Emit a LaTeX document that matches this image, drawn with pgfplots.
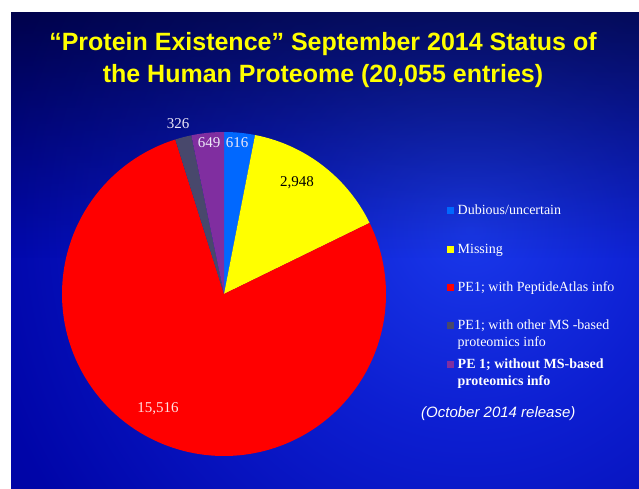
\documentclass[border=0pt]{standalone}
\usepackage{pgfplots}
\pgfplotsset{compat=1.18}
\usepackage{pgfplotstable}
\usepackage{fontspec}
\setmainfont{Liberation Serif}
\newfontfamily\arial{Liberation Sans}
\usetikzlibrary{fadings}

\definecolor{sBlue}{RGB}{0,104,255}
\definecolor{sYellow}{RGB}{255,255,0}
\definecolor{sRed}{RGB}{255,0,0}
\definecolor{sDark}{RGB}{72,72,108}
\definecolor{sPurple}{RGB}{128,46,160}
\definecolor{titleyellow}{RGB}{255,255,0}
\definecolor{lblwhite}{RGB}{236,232,248}

\pgfplotstableread{
label value
Dubious 616
Missing 2948
PeptideAtlas 15516
OtherMS 326
NoMS 649
}\pietable

\pgfdeclareradialshading{bgrad}{\pgfpointorigin}{rgb(0bp)=(0.10,0.22,0.92); rgb(8bp)=(0.05,0.12,0.82); rgb(20bp)=(0,0.02,0.66); rgb(35bp)=(0,0,0.52); rgb(50bp)=(0,0,0.45)}
\tikzfading[name=topdark, top color=transparent!0, bottom color=transparent!100]

\begin{document}
\begin{tikzpicture}[x=1pt,y=1pt]
\useasboundingbox (0,0) rectangle (639,488);
\fill[white] (0,0) rectangle (639,488);
\begin{scope}
\clip (11,0) rectangle (639,475.5);
\shade[shading=bgrad] (470,258) circle (620);
\fill[black, fill opacity=0.55, path fading=topdark] (11,230) rectangle (639,476);
\end{scope}

% slice angles from the data
\pgfplotstablegetelem{0}{value}\of\pietable \pgfmathsetmacro\tA{\pgfplotsretval/1000}
\pgfplotstablegetelem{1}{value}\of\pietable \pgfmathsetmacro\tB{\pgfplotsretval/1000}
\pgfplotstablegetelem{2}{value}\of\pietable \pgfmathsetmacro\tC{\pgfplotsretval/1000}
\pgfplotstablegetelem{3}{value}\of\pietable \pgfmathsetmacro\tD{\pgfplotsretval/1000}
\pgfplotstablegetelem{4}{value}\of\pietable \pgfmathsetmacro\tE{\pgfplotsretval/1000}
\pgfmathsetmacro\tot{\tA+\tB+\tC+\tD+\tE}
\pgfmathsetmacro\aA{90}
\pgfmathsetmacro\aB{\aA-360*\tA/\tot}
\pgfmathsetmacro\aC{\aB-360*\tB/\tot}
\pgfmathsetmacro\aD{\aC-360*\tC/\tot}
\pgfmathsetmacro\aE{\aD-360*\tD/\tot}
\pgfmathsetmacro\aF{\aE-360*\tE/\tot}

\begin{axis}[at={(224pt,194pt)}, anchor=center, width=324pt, height=324pt,
  scale only axis, xmin=-1, xmax=1, ymin=-1, ymax=1, hide axis, clip=false]
\addplot[draw=none, fill=sBlue, domain=\aB:\aA, samples=20, variable=\t] ({cos(\t)},{sin(\t)}) -- (axis cs:0,0) -- cycle;
\addplot[draw=none, fill=sYellow, domain=\aC:\aB, samples=50, variable=\t] ({cos(\t)},{sin(\t)}) -- (axis cs:0,0) -- cycle;
\addplot[draw=none, fill=sRed, domain=\aD:\aC, samples=200, variable=\t] ({cos(\t)},{sin(\t)}) -- (axis cs:0,0) -- cycle;
\addplot[draw=none, fill=sDark, domain=\aE:\aD, samples=12, variable=\t] ({cos(\t)},{sin(\t)}) -- (axis cs:0,0) -- cycle;
\addplot[draw=none, fill=sPurple, domain=\aF:\aE, samples=20, variable=\t] ({cos(\t)},{sin(\t)}) -- (axis cs:0,0) -- cycle;
\end{axis}

% pie labels
\begin{scope}[every node/.style={font=\fontsize{15}{15}\selectfont, inner sep=0pt}]
\node[text=lblwhite] at (178,364) {326};
\node[text=lblwhite] at (209,345) {649};
\node[text=lblwhite] at (237,345) {616};
\node[text=black] at (297,305) {2,948};
\node[text={rgb,255:red,255;green,226;blue,226}] at (158,79) {15,516};
\end{scope}

% title
\node[anchor=base, text=titleyellow, font=\arial\bfseries\fontsize{25}{30}\selectfont, inner sep=0pt] at (323,437) {“Protein Existence” September 2014 Status of};
\node[anchor=base, text=titleyellow, font=\arial\bfseries\fontsize{25}{30}\selectfont, inner sep=0pt] at (323,405) {the Human Proteome (20,055 entries)};

% legend
\begin{scope}[every node/.style={anchor=base west, text=white, font=\fontsize{14}{14}\selectfont, inner sep=0pt}]
\fill[sBlue] (446.5,274.5) rectangle (453.5,281.5);
\node at (457.5,273.5) {Dubious/uncertain};
\fill[sYellow] (446.5,235.5) rectangle (453.5,242.5);
\node at (457.5,234.5) {Missing};
\fill[sRed] (446.5,197.5) rectangle (453.5,204.5);
\node at (457.5,196.5) {PE1; with PeptideAtlas info};
\fill[sDark] (446.5,159.5) rectangle (453.5,166.5);
\node at (457.5,158.5) {PE1; with other MS -based};
\node at (457.5,141.5) {proteomics info};
\fill[sPurple] (446.5,120.5) rectangle (453.5,127.5);
\node[font=\bfseries\fontsize{14}{14}\selectfont] at (457.5,119.5) {PE 1; without MS-based};
\node[font=\bfseries\fontsize{14}{14}\selectfont] at (457.5,102.5) {proteomics info};
\end{scope}

\node[anchor=base west, text=white, font=\arial\itshape\fontsize{15}{15}\selectfont, inner sep=0pt] at (421,71) {(October 2014 release)};
\end{tikzpicture}
\end{document}
